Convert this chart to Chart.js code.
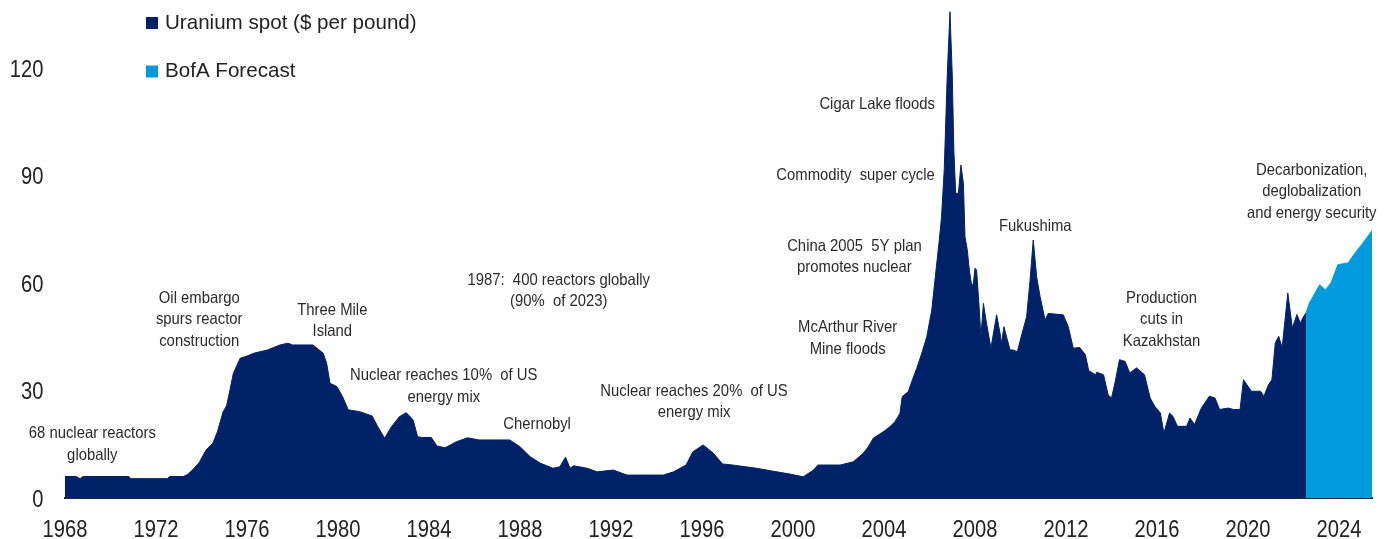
<!DOCTYPE html>
<html>
<head>
<meta charset="utf-8">
<script src="https://cdn.jsdelivr.net/npm/chart.js@4/dist/chart.umd.min.js"></script>
<style>
  html, body { margin: 0; padding: 0; background: #fff; }
  #wrap { width: 1388px; height: 539px; }
</style>
</head>
<body>
<div id="wrap"><canvas id="uranio"></canvas></div>
<script>
// Uranium spot, $ per pound
const histYears = [1968.0, 1968.5, 1968.66, 1968.8, 1970.8, 1970.9, 1972.5, 1972.6, 1973.2, 1973.4,
  1973.6, 1973.9, 1974.2, 1974.5, 1974.7, 1974.95, 1975.1, 1975.25, 1975.4, 1975.7,
  1976.0, 1976.3, 1976.9, 1977.45, 1977.8, 1978.0, 1978.9, 1979.35, 1979.5, 1979.65,
  1979.95, 1980.2, 1980.45, 1980.95, 1981.5, 1981.75, 1982.05, 1982.35, 1982.7, 1983.0,
  1983.3, 1983.5, 1983.7, 1984.1, 1984.35, 1984.7, 1985.0, 1985.2, 1985.7, 1986.2,
  1987.55, 1988.0, 1988.45, 1988.9, 1989.45, 1989.75, 1990.0, 1990.2, 1990.35, 1990.95,
  1991.4, 1992.1, 1992.7, 1994.3, 1994.75, 1995.3, 1995.6, 1996.05, 1996.5, 1996.9,
  1997.35, 1998.4, 1999.1, 1999.85, 2000.45, 2000.9, 2001.1,
  2002.07, 2002.65, 2003.09, 2003.31, 2003.53, 2003.75, 2003.97, 2004.26, 2004.48, 2004.7,
  2004.8, 2005.07, 2005.22, 2005.44, 2005.66, 2005.88, 2006.1, 2006.24, 2006.43, 2006.53,
  2006.65, 2006.78, 2006.9, 2007.0, 2007.07, 2007.15, 2007.27, 2007.38, 2007.49, 2007.56,
  2007.66, 2007.75, 2007.85, 2007.93, 2008.0, 2008.07, 2008.18, 2008.26, 2008.37, 2008.48,
  2008.7, 2008.95, 2009.1, 2009.17, 2009.27, 2009.54, 2009.68, 2009.86, 2010.05, 2010.27,
  2010.42, 2010.56, 2010.71, 2010.86, 2011.08, 2011.22, 2011.88, 2012.1, 2012.32, 2012.6,
  2012.85, 2013.0, 2013.3, 2013.35, 2013.65, 2013.85, 2014.0, 2014.15, 2014.35, 2014.6,
  2014.8, 2015.1, 2015.45, 2015.7, 2015.9, 2016.15, 2016.3, 2016.45, 2016.55, 2016.7,
  2016.9, 2017.3, 2017.45, 2017.65, 2017.95, 2018.3, 2018.55, 2018.75, 2019.15, 2019.35,
  2019.65, 2019.8, 2020.15, 2020.55, 2020.7, 2020.9, 2021.05, 2021.2, 2021.35, 2021.5,
  2021.75, 2021.95, 2022.15, 2022.3, 2022.45, 2022.55];
const histPrices = [6.0, 6.0, 5.4, 6.0, 6.0, 5.4, 5.4, 6.0, 6.0, 6.6,
  7.8, 9.9, 13.4, 15.3, 18.5, 24.1, 25.7, 30.1, 34.8, 39.0,
  39.6, 40.4, 41.3, 42.7, 43.2, 42.7, 42.7, 40.4, 37.6, 32.0,
  31.1, 28.3, 24.6, 24.1, 22.9, 19.9, 16.7, 19.9, 22.7, 23.8,
  21.8, 17.1, 16.9, 16.9, 14.5, 14.0, 15.0, 15.7, 16.8, 16.2,
  16.2, 14.3, 11.5, 9.7, 8.3, 8.7, 11.4, 8.3, 9.0, 8.3,
  7.3, 7.8, 6.4, 6.4, 7.3, 9.2, 12.9, 14.8, 12.5, 9.5,
  9.2, 8.3, 7.5, 6.7, 5.9, 7.8, 9.2,
  9.2, 10.1, 12.5, 14.3, 16.7, 17.6, 18.5, 19.9, 21.3, 23.6,
  28.3, 29.7, 32.5, 36.2, 40.4, 45.0, 52.5, 60.8, 72.0, 78.5,
  92, 118, 135.7, 118, 97, 85.0, 85.0, 92.9, 87.8, 72.9,
  69.2, 63.6, 59.4, 59.9, 64.1, 63.6, 53.4, 45.0, 54.3, 49.7,
  41.8, 51.1, 46.0, 43.2, 47.8, 41.3, 41.3, 40.8, 45.5, 50.6,
  60.8, 72.0, 61.7, 56.2, 49.7, 51.5, 51.1, 47.8, 41.8, 42.0,
  40.0, 35.5, 34.4, 35.1, 34.4, 28.8, 27.9, 32.1, 38.6, 38.1,
  34.9, 36.3, 34.4, 27.9, 25.6, 23.7, 18.1, 21.4, 23.7, 22.8,
  20.0, 20.0, 22.3, 20.5, 25.1, 28.4, 27.9, 24.7, 25.1, 24.7,
  24.7, 33.0, 29.8, 29.8, 28.4, 31.6, 33.0, 43.3, 45.1, 41.9,
  57.2, 47.4, 51.2, 48.8, 50.7, 51.6];

// BofA forecast
const fcYears = [2022.55, 2022.7, 2022.95, 2023.15, 2023.4, 2023.65, 2023.95, 2024.4, 2024.65, 2025.0, 2025.45];
const fcPrices = [51.6, 54.4, 57.2, 59.5, 58.1, 60.0, 65.1, 65.6, 67.9, 70.7, 74.6];

const yearTicks = [1968, 1972, 1976, 1980, 1984, 1988, 1992, 1996, 2000, 2004, 2008, 2012, 2016, 2020, 2024];
const priceTicks = [0, 30, 60, 90, 120];

// event labels: [year, value, lines]
const events = [
  [1969.2, 15.0, ["68 nuclear reactors", "globally"]],
  [1973.9, 49.7, ["Oil embargo", "spurs reactor", "construction"]],
  [1979.75, 49.4, ["Three Mile", "Island"]],
  [1984.65, 31.1, ["Nuclear reaches 10%  of US", "energy mix"]],
  [1988.75, 20.6, ["Chernobyl"]],
  [1989.7, 57.8, ["1987:  400 reactors globally", "(90%  of 2023)"]],
  [1995.65, 26.8, ["Nuclear reaches 20%  of US", "energy mix"]],
  [2002.4, 44.5, ["McArthur River", "Mine floods"]],
  [2002.7, 67.3, ["China 2005  5Y plan", "promotes nuclear"]],
  [2002.75, 90.1, ["Commodity  super cycle"]],
  [2003.7, 109.9, ["Cigar Lake floods"]],
  [2010.65, 75.9, ["Fukushima"]],
  [2016.2, 49.7, ["Production", "cuts in", "Kazakhstan"]],
  [2022.8, 85.4, ["Decarbonization,", "deglobalization", "and energy security"]]
];

const FONT = "'Liberation Sans', Arial, sans-serif";
const NAVY = "#012169";
const SKY = "#009ADE";

const histData = histYears.map((x, i) => ({ x: x, y: histPrices[i] }));
const fcData = fcYears.map((x, i) => ({ x: x, y: fcPrices[i] }));

// the source uses a condensed face, squeeze the text horizontally
function narrowText(ctx, text, x, y, squeeze) {
  ctx.save();
  ctx.translate(x, y);
  ctx.scale(squeeze, 1);
  ctx.fillText(text, 0, 0);
  ctx.restore();
}

const axisLabels = {
  id: "axisLabels",
  afterDraw(chart) {
    const ctx = chart.ctx;
    const xs = chart.scales.x, ys = chart.scales.y;
    ctx.save();
    ctx.fillStyle = "#222";
    ctx.font = "24px " + FONT;
    ctx.textBaseline = "alphabetic";
    ctx.textAlign = "center";
    xs.ticks.forEach((t, i) => narrowText(ctx, String(t.value), xs.getPixelForTick(i), 537, 0.84));
    ctx.textAlign = "right";
    ys.ticks.forEach((t, i) => narrowText(ctx, String(t.value), 43.5, ys.getPixelForTick(i) + 9, 0.84));
    ctx.restore();
  }
};

const eventLabels = {
  id: "eventLabels",
  afterDatasetsDraw(chart) {
    const ctx = chart.ctx;
    const xs = chart.scales.x, ys = chart.scales.y;
    ctx.save();
    ctx.font = "16.5px " + FONT;
    ctx.fillStyle = "#2b2b2b";
    ctx.textAlign = "center";
    ctx.textBaseline = "middle";
    events.forEach(ev => {
      const cx = xs.getPixelForValue(ev[0]);
      const cy = ys.getPixelForValue(ev[1]);
      const lines = ev[2];
      const lh = 21.5;
      const top = cy - (lines.length - 1) * lh / 2;
      lines.forEach((t, i) => narrowText(ctx, t, cx, top + i * lh, 0.9));
    });
    ctx.restore();
  }
};

const sideLegend = {
  id: "sideLegend",
  afterDraw(chart) {
    const ctx = chart.ctx;
    ctx.save();
    ctx.font = "21px " + FONT;
    ctx.textBaseline = "middle";
    ctx.textAlign = "left";
    chart.data.datasets.forEach((ds, i) => {
      const y = 23 + i * 48.5;
      ctx.fillStyle = ds.backgroundColor;
      ctx.fillRect(146, y - 6, 12, 12);
      ctx.fillStyle = "#222";
      narrowText(ctx, ds.label, 165, y, 0.98);
    });
    ctx.restore();
  }
};

new Chart("uranio", {
  type: "line",
  data: {
    datasets: [{
      label: "Uranium spot ($ per pound)",
      data: histData,
      backgroundColor: NAVY,
      borderColor: NAVY,
      borderWidth: 1,
      pointRadius: 0,
      tension: 0,
      fill: "origin"
    }, {
      label: "BofA Forecast",
      data: fcData,
      backgroundColor: SKY,
      borderColor: SKY,
      borderWidth: 1,
      pointRadius: 0,
      tension: 0,
      fill: "origin"
    }]
  },
  options: {
    responsive: true,
    maintainAspectRatio: false,
    animation: false,
    layout: { padding: { top: 7, right: 16, left: 0, bottom: 0 } },
    plugins: {
      legend: { display: false },
      tooltip: { enabled: false }
    },
    scales: {
      x: {
        type: "linear",
        min: 1968,
        max: 2025.45,
        grid: { display: false, drawTicks: false },
        border: { display: true, color: "#1d2a30", width: 2 },
        afterBuildTicks: s => { s.ticks = yearTicks.map(v => ({ value: v })); },
        afterFit: s => { s.height = 41; s.paddingLeft = 0; s.paddingRight = 0; },
        ticks: { display: false }
      },
      y: {
        min: 0,
        max: 137,
        grid: { display: false, drawTicks: false },
        border: { display: false },
        afterBuildTicks: s => { s.ticks = priceTicks.map(v => ({ value: v })); },
        afterFit: s => { s.width = 65; s.paddingTop = 0; s.paddingBottom = 0; },
        ticks: { display: false }
      }
    }
  },
  plugins: [eventLabels, axisLabels, sideLegend]
});
</script>
</body>
</html>
